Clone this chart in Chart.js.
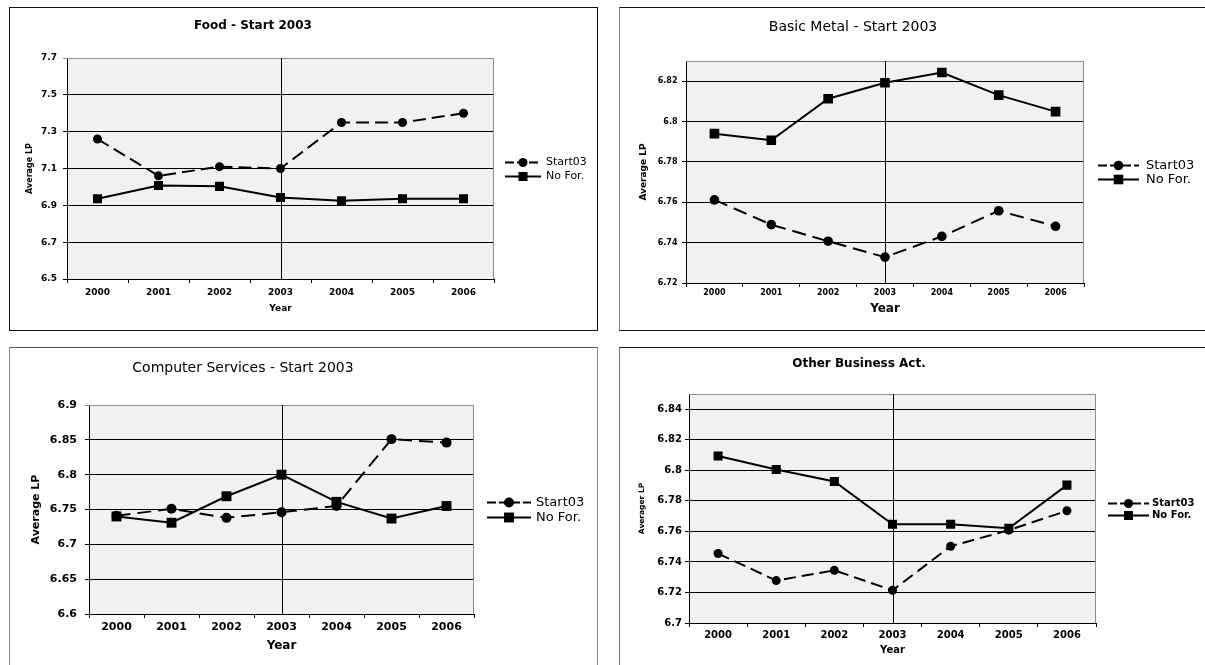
<!DOCTYPE html>
<html>
<head>
<meta charset="utf-8">
<script src="https://cdn.jsdelivr.net/npm/chart.js@4.4.1/dist/chart.umd.min.js"></script>
<style>
  html, body { margin: 0; padding: 0; background: #fff; }
  body { width: 1205px; height: 665px; position: relative; overflow: hidden; }
  .panel { position: absolute; box-sizing: border-box; border: 1px solid #111; height: 324px; }
  .panel canvas { position: absolute; left: 0; top: 0; }
</style>
</head>
<body>
<div class="panel" style="left:9px;top:7px;width:589px"><canvas id="food" width="587" height="322"></canvas></div>
<div class="panel" style="left:619px;top:7px;width:588px;border-left-color:#888"><canvas id="metal" width="586" height="322"></canvas></div>
<div class="panel" style="left:9px;top:347px;width:589px;border-color:#555 #888 #555 #888"><canvas id="comp" width="587" height="322"></canvas></div>
<div class="panel" style="left:619px;top:347px;width:588px;border-left-color:#777"><canvas id="biz" width="586" height="322"></canvas></div>
<script>
// categories
const years = ['2000', '2001', '2002', '2003', '2004', '2005', '2006'];
const markYear = '2003';
const seriesNames = ['Start03', 'No For.'];

// Food - Start 2003
const foodStart03 = [7.26, 7.06, 7.11, 7.10, 7.35, 7.35, 7.40];
const foodNoFor = [6.936, 7.008, 7.003, 6.943, 6.925, 6.936, 6.936];
const foodTicks = [6.5, 6.7, 6.9, 7.1, 7.3, 7.5, 7.7];
const foodMax = 7.7;

// Basic Metal - Start 2003
const metalStart03 = [6.7612, 6.7489, 6.7407, 6.7328, 6.7431, 6.7558, 6.7481];
const metalNoFor = [6.7940, 6.7907, 6.8113, 6.8192, 6.8243, 6.8131, 6.8049];
const metalTicks = [6.72, 6.74, 6.76, 6.78, 6.8, 6.82];
const metalMax = 6.83;

// Computer Services - Start 2003
const compStart03 = [6.741, 6.751, 6.738, 6.746, 6.755, 6.851, 6.846];
const compNoFor = [6.740, 6.731, 6.769, 6.800, 6.761, 6.737, 6.755];
const compTicks = [6.6, 6.65, 6.7, 6.75, 6.8, 6.85, 6.9];
const compMax = 6.9;

// Other Business Act.
const bizStart03 = [6.7455, 6.7278, 6.7345, 6.7214, 6.7503, 6.7608, 6.7735];
const bizNoFor = [6.8094, 6.8006, 6.7927, 6.7647, 6.7647, 6.7621, 6.7903];
const bizTicks = [6.7, 6.72, 6.74, 6.76, 6.78, 6.8, 6.82, 6.84];
const bizMax = 6.85;

const FONT = "'DejaVu Sans', Verdana, sans-serif";

// grey plot background, grey top/right frame and the 2003 marker line
const plotFrame = {
  id: 'plotFrame',
  beforeDraw(chart) {
    const { ctx, chartArea: a } = chart;
    ctx.save();
    ctx.fillStyle = '#f1f1f1';
    ctx.fillRect(a.left, a.top, a.right - a.left, a.bottom - a.top);
    ctx.restore();
  },
  beforeDatasetsDraw(chart) {
    const { ctx, chartArea: a } = chart;
    const xs = chart.scales.x;
    ctx.save();
    ctx.lineWidth = 1;
    ctx.strokeStyle = '#8c8c8c';
    ctx.beginPath();
    ctx.moveTo(a.left, Math.round(a.top) + 0.5);
    ctx.lineTo(a.right - 0.5, Math.round(a.top) + 0.5);
    ctx.lineTo(a.right - 0.5, a.bottom);
    ctx.stroke();
    const px = Math.round(xs.getPixelForValue(years.indexOf(markYear))) + 0.5;
    ctx.strokeStyle = '#000';
    ctx.beginPath();
    ctx.moveTo(px, a.top);
    ctx.lineTo(px, a.bottom);
    ctx.stroke();
    ctx.restore();
  }
};

// legend to the right of the plot: line sample + marker + label
const sideLegend = {
  id: 'sideLegend',
  afterDraw(chart, args, opts) {
    const { ctx, chartArea: a } = chart;
    const sets = chart.data.datasets;
    const mid = (a.top + a.bottom) / 2;
    const x0 = a.right + opts.gap;
    ctx.save();
    sets.forEach((ds, i) => {
      const y = Math.round(mid + (i - (sets.length - 1) / 2) * opts.rowH) + 0.5;
      ctx.strokeStyle = ds.borderColor;
      ctx.lineWidth = ds.borderWidth;
      ctx.setLineDash(ds.legendDash || []);
      ctx.beginPath();
      ctx.moveTo(x0, y);
      ctx.lineTo(x0 + opts.symW, y);
      ctx.stroke();
      ctx.setLineDash([]);
      ctx.fillStyle = ds.pointBackgroundColor;
      Chart.helpers.drawPoint(ctx, {
        pointStyle: ds.pointStyle, radius: ds.pointRadius, rotation: 0, borderWidth: 0
      }, x0 + opts.symW / 2, y);
      ctx.fillStyle = '#000';
      ctx.font = `${opts.weight} ${opts.size}px ${FONT}`;
      ctx.textAlign = 'left';
      ctx.textBaseline = 'middle';
      ctx.fillText(ds.label, x0 + opts.symW + opts.textGap, y);
    });
    ctx.restore();
  }
};

function makeChart(id, p) {
  const f = (size, weight) => ({ family: FONT, size: size, weight: weight, lineHeight: 1.2 });
  new Chart(document.getElementById(id), {
    type: 'line',
    data: {
      labels: years,
      datasets: [
        {
          label: seriesNames[0],
          data: p.start03,
          borderColor: '#000',
          borderWidth: 2,
          borderDash: p.dash,
          legendDash: [9, 3],
          pointStyle: 'circle',
          pointRadius: p.circleR,
          pointHoverRadius: p.circleR,
          pointBackgroundColor: '#000',
          pointBorderWidth: 0,
          tension: 0,
          fill: false
        },
        {
          label: seriesNames[1],
          data: p.noFor,
          borderColor: '#000',
          borderWidth: 2,
          pointStyle: 'rect',
          pointRadius: p.rectR,
          pointHoverRadius: p.rectR,
          pointBackgroundColor: '#000',
          pointBorderWidth: 0,
          tension: 0,
          fill: false
        }
      ]
    },
    options: {
      responsive: false,
      animation: false,
      events: [],
      layout: { padding: { left: 2, top: 0, right: p.padRight, bottom: 2 } },
      plugins: {
        legend: { display: false },
        tooltip: { enabled: false },
        title: {
          display: true,
          text: p.title,
          color: '#000',
          font: f(p.titleSize, p.titleWeight),
          padding: { top: p.titlePad[0], bottom: p.titlePad[1] }
        },
        sideLegend: p.legend
      },
      scales: {
        x: {
          type: 'category',
          offset: true,
          grid: { offset: true, drawOnChartArea: false, drawTicks: true, tickLength: 4, color: '#000' },
          border: { color: '#000', width: 1 },
          ticks: { color: '#000', font: f(p.xTickSize, 'bold'), padding: p.xTickPad, maxRotation: 0, autoSkip: false },
          title: { display: true, text: 'Year', color: '#000', font: f(p.xTitleSize, 'bold'), padding: { top: 0, bottom: p.xTitlePad } },
          afterFit: (s) => { s.height = p.xHeight; }
        },
        y: {
          type: 'linear',
          min: p.yTicks[0],
          max: p.yMax,
          afterBuildTicks: (s) => { s.ticks = p.yTicks.map(v => ({ value: v })); },
          grid: {
            drawTicks: true,
            tickLength: 4,
            color: (c) => (c.tick && c.tick.value >= p.yMax ? '#8c8c8c' : '#000')
          },
          border: { color: '#000', width: 1 },
          ticks: { color: '#000', font: f(p.yTickSize, 'bold'), padding: p.yTickPad, autoSkip: false, callback: (v) => String(v) },
          title: { display: true, text: p.yTitle, color: '#000', font: f(p.yTitleSize, 'bold'), padding: { top: p.yTitlePad, bottom: 0 } },
          afterFit: (s) => { s.width = p.yWidth; }
        }
      }
    },
    plugins: [plotFrame, sideLegend]
  });
}

makeChart('food', {
  title: 'Food - Start 2003', titleSize: 12, titleWeight: 'bold', titlePad: [10.8, 24.8],
  start03: foodStart03, noFor: foodNoFor, yTicks: foodTicks, yMax: foodMax,
  yTitle: 'Average LP', yTitleSize: 8, yTitlePad: 13.2, yWidth: 55, yTickSize: 9, yTickPad: 6,
  xTickSize: 9, xTickPad: 4.6, xTitleSize: 9, xTitlePad: 13.6, xHeight: 49, padRight: 103,
  dash: [13, 6], circleR: 4.5, rectR: 6.4,
  legend: { gap: 11, symW: 36, size: 11, weight: 'normal', textGap: 5, rowH: 14 }
});

makeChart('metal', {
  title: 'Basic Metal - Start 2003', titleSize: 14, titleWeight: 'normal', titlePad: [10.6, 25.6],
  start03: metalStart03, noFor: metalNoFor, yTicks: metalTicks, yMax: metalMax,
  yTitle: 'Average LP', yTitleSize: 9, yTitlePad: 16.6, yWidth: 64, yTickSize: 8, yTickPad: 4.5,
  xTickSize: 8, xTickPad: 1.2, xTitleSize: 12, xTitlePad: 11.8, xHeight: 45, padRight: 122,
  dash: [14, 7], circleR: 4.8, rectR: 6.8,
  legend: { gap: 14, symW: 41, size: 13, weight: 'normal', textGap: 7, rowH: 14 }
});

makeChart('comp', {
  title: 'Computer Services - Start 2003', titleSize: 14, titleWeight: 'normal', titlePad: [11.6, 28.6],
  start03: compStart03, noFor: compNoFor, yTicks: compTicks, yMax: compMax,
  yTitle: 'Average LP', yTitleSize: 11, yTitlePad: 17.4, yWidth: 77, yTickSize: 11, yTickPad: 8,
  xTickSize: 11, xTickPad: 2.4, xTitleSize: 12, xTitlePad: 14.8, xHeight: 54, padRight: 123,
  dash: [14, 7], circleR: 5, rectR: 7,
  legend: { gap: 13, symW: 44, size: 13, weight: 'normal', textGap: 5, rowH: 15 }
});

makeChart('biz', {
  title: 'Other Business Act.', titleSize: 12, titleWeight: 'bold', titlePad: [8.8, 22.8],
  start03: bizStart03, noFor: bizNoFor, yTicks: bizTicks, yMax: bizMax,
  yTitle: 'Averager LP', yTitleSize: 7.5, yTitlePad: 15.5, yWidth: 67, yTickSize: 10, yTickPad: 3,
  xTickSize: 10, xTickPad: 2, xTitleSize: 10, xTitlePad: 12, xHeight: 45, padRight: 110,
  dash: [12, 6], circleR: 4.5, rectR: 6.4,
  legend: { gap: 12, symW: 41, size: 10, weight: 'bold', textGap: 3, rowH: 12 }
});
</script>
</body>
</html>
